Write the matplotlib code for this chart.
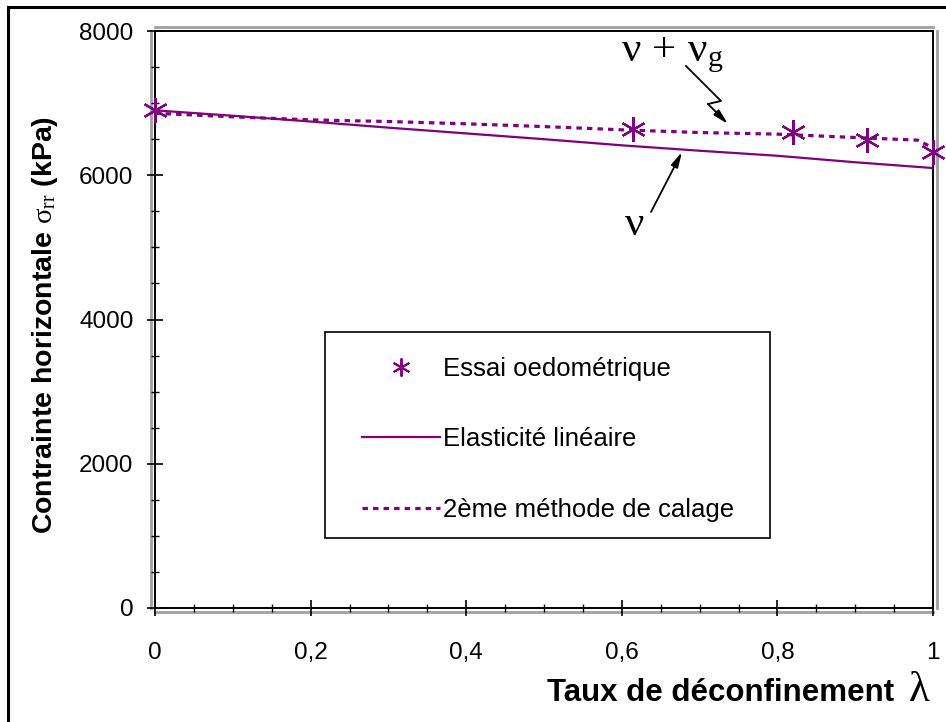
import matplotlib
matplotlib.use("Agg")
import matplotlib.pyplot as plt
import matplotlib.transforms as mtransforms
from matplotlib.lines import Line2D
from matplotlib.patches import Rectangle
from matplotlib.ticker import MultipleLocator, FuncFormatter

# ---- data ----
essai_x = [0.0, 0.615, 0.82, 0.915, 1.0]
essai_y = [6910, 6645, 6600, 6490, 6325]

elastic_x = [0.0, 0.1, 0.2, 0.3, 0.4, 0.5, 0.6, 0.7, 0.8, 0.9, 1.0]
elastic_y = [6900, 6825, 6745, 6660, 6580, 6500, 6415, 6340, 6270, 6180, 6100]

calage_x = [0.0, 0.1, 0.2, 0.3, 0.4, 0.5, 0.6, 0.7, 0.8, 0.9, 0.98, 1.0]
calage_y = [6860, 6810, 6768, 6745, 6713, 6675, 6630, 6592, 6570, 6523, 6487, 6380]

x_ticks = [0, 0.2, 0.4, 0.6, 0.8, 1.0]
y_ticks = [0, 2000, 4000, 6000, 8000]

legend_labels = ["Essai oedométrique", "Elasticité linéaire", "2ème méthode de calage"]

PURPLE = "#800080"

plt.rcParams["font.family"] = ["Liberation Sans", "DejaVu Sans"]
plt.rcParams["mathtext.fontset"] = "custom"
plt.rcParams["mathtext.rm"] = "Liberation Serif"
plt.rcParams["mathtext.it"] = "Liberation Serif:italic"

W, H = 946, 722
fig = plt.figure(figsize=(W / 100, H / 100), dpi=100)
L, R, T, B = 155, 933, 31, 608
ax = fig.add_axes([L / W, 1 - B / H, (R - L) / W, (B - T) / H])

ax.plot(elastic_x, elastic_y, color=PURPLE, lw=1.6, solid_capstyle="butt", zorder=3)
ax.plot(calage_x, calage_y, color=PURPLE, lw=2.3, linestyle=(0, (1.7, 1.6)), zorder=3)
ax.plot(essai_x, essai_y, linestyle="none", marker=(6, 2, 0), markersize=18,
        markeredgewidth=1.6, color=PURPLE, clip_on=False, zorder=4)

ax.set_xlim(0, 1)
ax.set_ylim(0, 8000)
ax.set_xticks(x_ticks)
ax.set_yticks(y_ticks)
ax.xaxis.set_minor_locator(MultipleLocator(0.05))
ax.yaxis.set_minor_locator(MultipleLocator(500))
ax.xaxis.set_major_formatter(FuncFormatter(lambda v, p: ("%g" % v).replace(".", ",")))
ax.yaxis.set_major_formatter(FuncFormatter(lambda v, p: "%d" % v))

ax.tick_params(axis="both", which="major", direction="inout", length=11, width=1.2,
               color="black")
ax.tick_params(axis="both", which="minor", direction="inout", length=6, width=1.0)
ax.tick_params(axis="y", which="major", labelsize=17.5, pad=10)
ax.tick_params(axis="x", which="major", labelsize=17.5, pad=19)

for s in ax.spines.values():
    s.set_linewidth(1.4)
    s.set_color("black")

# grey outer line of the double frame
off = 3 / 72
tr = ax.transAxes
for (xs, ys, dx, dy) in [([0, 0], [0, 1], -off, 0), ([1, 1], [0, 1], off, 0),
                         ([0, 1], [1, 1], 0, off), ([0, 1], [0, 0], 0, -off)]:
    t = tr + mtransforms.ScaledTranslation(dx, dy, fig.dpi_scale_trans)
    ax.add_line(Line2D(xs, ys, transform=t, color="#a0a0a0", lw=2.0,
                       clip_on=False, zorder=0))

# legend (frame drawn separately so the inner padding matches)
lx0, ly0, lx1, ly1 = 325, 332, 770, 538
frame = Rectangle((lx0 / W, 1 - ly1 / H), (lx1 - lx0) / W, (ly1 - ly0) / H,
                  transform=fig.transFigure, facecolor="white", edgecolor="black",
                  lw=1.2, zorder=6)
ax.add_patch(frame)
frame.set_clip_on(False)

handles = [
    Line2D([], [], linestyle="none", marker=(6, 2, 0), markersize=13,
           markeredgewidth=1.4, color=PURPLE),
    Line2D([], [], color=PURPLE, lw=1.6),
    Line2D([], [], color=PURPLE, lw=2.3, linestyle=(0, (1.7, 1.6))),
]
leg = ax.legend(handles, legend_labels, loc="upper left",
                bbox_to_anchor=(362 / W, 1 - 357 / H),
                bbox_transform=fig.transFigure,
                fontsize=18.5, frameon=False, borderpad=0, labelspacing=1.8,
                handlelength=3.05, handletextpad=0.12, borderaxespad=0)
leg.set_zorder(7)

# annotations
def px2d(px, py):
    return ((px - L) / (R - L), (B - py) / (B - T) * 8000)

ax.text(*px2d(672, 55), r"$\mathrm{\nu\, +\, \nu}_{\mathrm{g}}$", fontsize=31,
        ha="center", va="center", zorder=5)
ax.add_line(Line2D([px2d(686, 66)[0], px2d(721, 101)[0], px2d(708, 104)[0]],
                   [px2d(686, 66)[1], px2d(721, 101)[1], px2d(708, 104)[1]],
                   color="black", lw=1.3, zorder=5))
ax.annotate("", xy=px2d(728, 124), xytext=px2d(708, 104),
            arrowprops=dict(arrowstyle="-|>,head_length=0.9,head_width=0.22",
                            color="black", lw=1.3, shrinkA=0, shrinkB=0), zorder=5)

ax.text(*px2d(634, 224), r"$\mathrm{\nu}$", fontsize=31, ha="center", va="center",
        zorder=5)
ax.annotate("", xy=px2d(682, 152), xytext=px2d(651, 212),
            arrowprops=dict(arrowstyle="-|>,head_length=0.9,head_width=0.22",
                            color="black", lw=1.3, shrinkA=0, shrinkB=0), zorder=5)

# axis labels
fig.text(45 / W, 1 - 325 / H, r"Contrainte horizontale $\mathrm{\sigma}_{\mathrm{rr}}$ (kPa)",
         rotation=90, ha="center", va="center", fontsize=20.5, fontweight="bold")
fig.text(894 / W, 1 - 693 / H, "Taux de déconfinement",
         ha="right", va="center", fontsize=22.5, fontweight="bold")
fig.text(931 / W, 1 - 690 / H, r"$\mathrm{\lambda}$",
         ha="right", va="center", fontsize=31)

# figure border (top and left visible)
fig.add_artist(Line2D([8 / W, 8 / W], [0, 1 - 7 / H], transform=fig.transFigure,
                      color="black", lw=2.2))
fig.add_artist(Line2D([8 / W, 1], [1 - 7 / H, 1 - 7 / H], transform=fig.transFigure,
                      color="black", lw=2.2))

fig.savefig("out.png", dpi=100)
